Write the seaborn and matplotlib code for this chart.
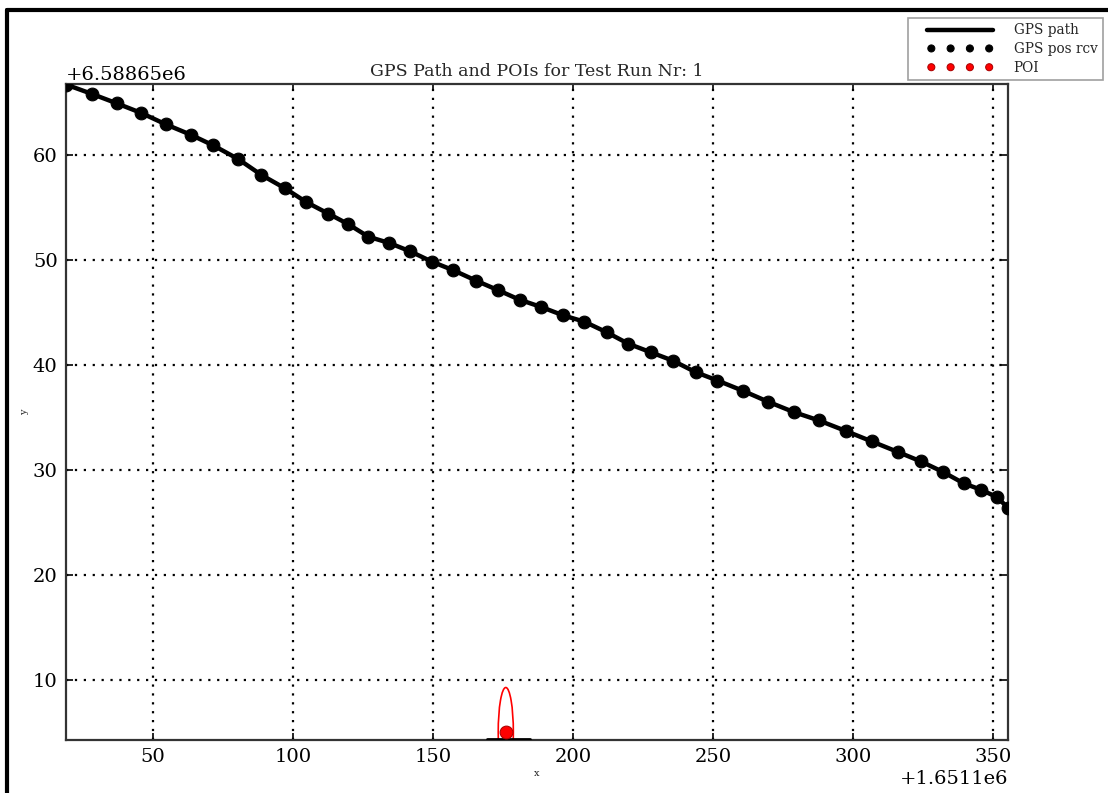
import matplotlib
matplotlib.use("Agg")
import matplotlib.pyplot as plt
import seaborn as sns
import pandas as pd
from matplotlib.patches import Ellipse
from matplotlib.lines import Line2D
from matplotlib.collections import PathCollection
from matplotlib.legend_handler import HandlerLine2D, HandlerPathCollection

# ---- data (relative to the axis offsets) ----
X_OFFSET = 1651100
Y_OFFSET = 6588650

gps_x = [18.9, 28.2, 37.1, 45.7, 54.6, 63.6, 71.5, 80.4, 88.6, 97.2,
         104.7, 112.6, 119.7, 126.9, 134.4, 141.9, 149.8, 157.3, 165.5, 173.3,
         180.9, 188.7, 196.6, 204.1, 212.0, 219.8, 227.7, 235.6, 243.8, 251.6,
         260.9, 269.5, 278.8, 287.8, 297.4, 306.7, 316.0, 324.2, 332.1, 339.6,
         345.7, 351.4, 355.3]
gps_y = [66.7, 65.8, 64.9, 64.0, 62.9, 61.9, 60.9, 59.6, 58.1, 56.8,
         55.5, 54.4, 53.4, 52.2, 51.6, 50.8, 49.8, 49.0, 48.0, 47.1,
         46.2, 45.5, 44.7, 44.1, 43.1, 42.0, 41.2, 40.4, 39.3, 38.5,
         37.5, 36.5, 35.5, 34.7, 33.7, 32.7, 31.7, 30.8, 29.8, 28.7,
         28.1, 27.4, 26.4]

poi_x = [176.0]
poi_y = [5.0]
poi_err_w = [5.4]
poi_err_h = [8.5]

base_x = [169.4, 184.8]
base_y = [4.3, 4.3]

xlim = (18.9, 355.4)
ylim = (4.25, 66.75)

title = "GPS Path and POIs for Test Run Nr: 1"

# ---- style ----
sns.set_theme(style="white")
plt.rcParams['font.family'] = ['DejaVu Serif']
plt.rcParams['axes.edgecolor'] = '#333333'
plt.rcParams['axes.linewidth'] = 1.6

df = pd.DataFrame({"x": [X_OFFSET + v for v in gps_x],
                   "y": [Y_OFFSET + v for v in gps_y]})
poi = pd.DataFrame({"x": [X_OFFSET + v for v in poi_x],
                    "y": [Y_OFFSET + v for v in poi_y]})

fig = plt.figure(figsize=(11.08, 7.93), dpi=100)
ax = fig.add_axes([66/1108, 53/793, 942/1108, 656/793])

sns.lineplot(data=df, x="x", y="y", sort=False, estimator=None, color="black",
             linewidth=3.2, ax=ax, label="GPS path", zorder=3)
sns.scatterplot(data=df, x="x", y="y", color="black", edgecolor="black", s=85,
                ax=ax, label="GPS pos rcv", zorder=4)
sns.scatterplot(data=poi, x="x", y="y", color="red", edgecolor="#aa0000", s=85,
                ax=ax, label="POI", zorder=5)

for px, py, w, h in zip(poi_x, poi_y, poi_err_w, poi_err_h):
    ax.add_patch(Ellipse((X_OFFSET + px, Y_OFFSET + py), w, h, fill=False,
                         edgecolor="red", linewidth=1.2, zorder=4))
ax.plot([X_OFFSET + v for v in base_x], [Y_OFFSET + v for v in base_y],
        color="black", linewidth=2, zorder=4)

ax.set_xlim(X_OFFSET + xlim[0], X_OFFSET + xlim[1])
ax.set_ylim(Y_OFFSET + ylim[0], Y_OFFSET + ylim[1])
ax.xaxis.get_major_formatter().set_useOffset(X_OFFSET)
ax.yaxis.get_major_formatter().set_useOffset(Y_OFFSET)
ax.set_xticks([X_OFFSET + v for v in [50, 100, 150, 200, 250, 300, 350]])
ax.set_yticks([Y_OFFSET + v for v in [10, 20, 30, 40, 50, 60]])

ax.grid(True, color="black", linestyle=(0, (1, 3)), linewidth=1.6)
ax.tick_params(direction="in", length=5, width=1.2, top=True, right=True,
               bottom=True, left=True, labelsize=14, colors="black", pad=6)
ax.xaxis.get_offset_text().set_fontsize(14)
ax.yaxis.get_offset_text().set_fontsize(14)

ax.set_xlabel("x", fontsize=7, labelpad=2)
ax.set_ylabel("y", fontsize=7, labelpad=3)
ax.set_title(title, fontsize=12.5, pad=6)

hmap = {Line2D: HandlerLine2D(xpad=1.05),
        PathCollection: HandlerPathCollection(xpad=1.05)}
leg = ax.legend(loc="upper right", bbox_to_anchor=(1103/1108, 1 - 18/793),
                bbox_transform=fig.transFigure, fontsize=9.8, scatterpoints=4,
                scatteryoffsets=[0.5], handlelength=5.9, markerscale=0.55,
                frameon=True, fancybox=False, borderpad=0.4, labelspacing=0.35,
                handletextpad=1.5, borderaxespad=0, handler_map=hmap)
leg.get_frame().set_edgecolor("#888888")
leg.get_frame().set_linewidth(1.2)

# figure border (left and top)
fig.add_artist(Line2D([7/1108, 7/1108], [0, 1 - 10/793], color="black",
                      linewidth=3, transform=fig.transFigure))
fig.add_artist(Line2D([7/1108, 1], [1 - 10/793, 1 - 10/793], color="black",
                      linewidth=3, transform=fig.transFigure))

fig.savefig("out.png", dpi=100, facecolor="white")
